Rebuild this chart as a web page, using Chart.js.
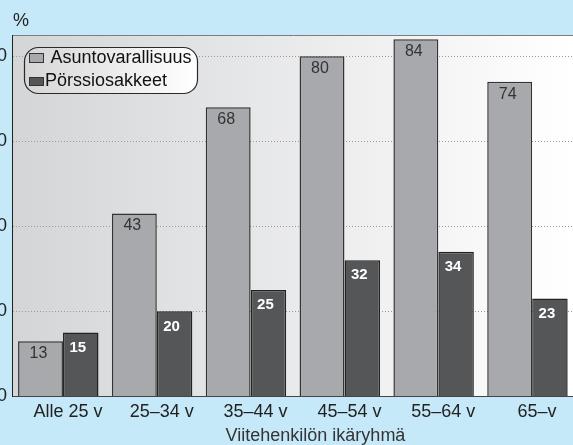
<!DOCTYPE html>
<html>
<head>
<meta charset="utf-8">
<script src="https://cdn.jsdelivr.net/npm/chart.js@4.4.1/dist/chart.umd.min.js"></script>
<style>
  html, body { margin: 0; padding: 0; width: 573px; height: 445px; overflow: hidden; background: #c6e9f9; }
  #wrap { position: absolute; left: -18px; top: 0; width: 600px; height: 445px; }
</style>
</head>
<body>
<div id="wrap"><canvas id="chart"></canvas></div>
<script>
// Age groups of the household reference person
const ageGroups = ['Alle 25 v', '25–34 v', '35–44 v', '45–54 v', '55–64 v', '65–v'];
// Share of households owning each asset type, %
const housingWealth = [13, 43, 68, 80, 84, 74];
const stockHoldings = [15, 20, 25, 32, 34, 23];
const seriesNames = ['Asuntovarallisuus', 'Pörssiosakkeet'];
const yTickValues = [0, 20, 40, 60, 80];
const unitLabel = '%';
const xAxisTitle = 'Viitehenkilön ikäryhmä';

const FONT = '"Liberation Sans", Arial, Helvetica, sans-serif';
const LIGHT = '#a8a9ac';
const DARK = '#555658';

// Gradient plot background plus the thin top frame line
const plotBackground = {
  id: 'plotBackground',
  beforeDraw(chart) {
    const { ctx, chartArea: a } = chart;
    ctx.save();
    const g = ctx.createLinearGradient(a.left, 0, a.left + 561, 0);
    g.addColorStop(0, '#d4d5d7');
    g.addColorStop(1, '#ffffff');
    ctx.fillStyle = g;
    ctx.fillRect(a.left, a.top, a.right - a.left, a.bottom - a.top);
    ctx.strokeStyle = '#7d7d7d';
    ctx.lineWidth = 1;
    ctx.beginPath();
    ctx.moveTo(a.left, a.top + 0.5);
    ctx.lineTo(a.right, a.top + 0.5);
    ctx.stroke();
    ctx.restore();
  }
};

// Value labels inside the bars, the boxed legend, unit and axis title
const decorations = {
  id: 'decorations',
  afterDatasetsDraw(chart) {
    const { ctx, chartArea: a } = chart;
    ctx.save();
    ctx.textAlign = 'center';
    ctx.textBaseline = 'middle';
    chart.data.datasets.forEach((ds, di) => {
      const meta = chart.getDatasetMeta(di);
      meta.data.forEach((bar, i) => {
        if (di === 0) {
          ctx.font = '16px ' + FONT;
          ctx.fillStyle = '#333333';
          ctx.fillText(String(ds.data[i]), bar.x - 2, bar.y + 12.5);
        } else {
          ctx.font = 'bold 15px ' + FONT;
          ctx.fillStyle = '#ffffff';
          ctx.fillText(String(ds.data[i]), bar.x - 3, bar.y + 15);
        }
      });
    });

    // legend box
    const bx = a.left + 12, by = a.top + 12, bw = 173, bh = 46;
    const lg = ctx.createLinearGradient(bx, 0, bx + bw, 0);
    lg.addColorStop(0, '#d6d6d7');
    lg.addColorStop(1, '#ffffff');
    ctx.beginPath();
    ctx.roundRect(bx + 0.5, by + 0.5, bw, bh, 14);
    ctx.fillStyle = lg;
    ctx.fill();
    ctx.strokeStyle = '#2a2a2a';
    ctx.lineWidth = 1.2;
    ctx.stroke();

    ctx.textAlign = 'left';
    ctx.font = '18px ' + FONT;
    ctx.lineWidth = 1;
    const rows = [
      { sy: a.top + 18.5, sh: 9, tx: a.left + 38.5, ty: a.top + 23 },
      { sy: a.top + 42.5, sh: 8, tx: a.left + 33, ty: a.top + 46 }
    ];
    chart.data.datasets.forEach((ds, di) => {
      const r = rows[di];
      ctx.fillStyle = ds.backgroundColor;
      ctx.fillRect(a.left + 17.5, r.sy, 14, r.sh);
      ctx.strokeStyle = '#333333';
      ctx.strokeRect(a.left + 17.5, r.sy, 14, r.sh);
      ctx.fillStyle = '#111111';
      ctx.fillText(ds.label, r.tx, r.ty);
    });

    // unit above the value axis
    ctx.fillStyle = '#222222';
    ctx.font = '18px ' + FONT;
    ctx.fillText(unitLabel, a.left + 1, a.top - 14);

    // category axis title
    ctx.textAlign = 'center';
    ctx.fillStyle = '#333333';
    ctx.fillText(xAxisTitle, (a.left + a.right) / 2 + 22, 436);
    ctx.restore();
  }
};

new Chart(document.getElementById('chart'), {
  type: 'bar',
  data: {
    labels: ageGroups,
    datasets: [
      {
        label: seriesNames[0],
        data: housingWealth,
        backgroundColor: LIGHT,
        borderColor: '#333333',
        borderWidth: 1.5,
        categoryPercentage: 0.7844,
        barPercentage: 1.22
      },
      {
        label: seriesNames[1],
        data: stockHoldings,
        backgroundColor: DARK,
        borderColor: '#222222',
        borderWidth: 1.5,
        categoryPercentage: 0.9315,
        barPercentage: 0.812
      }
    ]
  },
  options: {
    responsive: true,
    maintainAspectRatio: false,
    animation: false,
    devicePixelRatio: 1,
    layout: { padding: { left: 0, right: 7, top: 35, bottom: 17 } },
    plugins: { legend: { display: false }, tooltip: { enabled: false } },
    scales: {
      x: {
        grid: { display: false, drawTicks: false },
        border: { display: true, color: '#444444', width: 1 },
        ticks: {
          color: '#222222',
          font: { family: FONT, size: 18 },
          padding: 5,
          labelOffset: 9,
          maxRotation: 0,
          autoSkip: false
        }
      },
      y: {
        min: 0,
        max: 85,
        afterFit(scale) { scale.width = 30; },
        afterBuildTicks(scale) { scale.ticks = yTickValues.map(v => ({ value: v })); },
        grid: { color: '#9a9a9a', lineWidth: 1, drawTicks: false },
        border: { display: true, color: '#222222', width: 1, dash: [1, 2] },
        ticks: {
          color: '#222222',
          font: { family: FONT, size: 18 },
          padding: 5
        }
      }
    }
  },
  plugins: [plotBackground, decorations]
});
</script>
</body>
</html>
